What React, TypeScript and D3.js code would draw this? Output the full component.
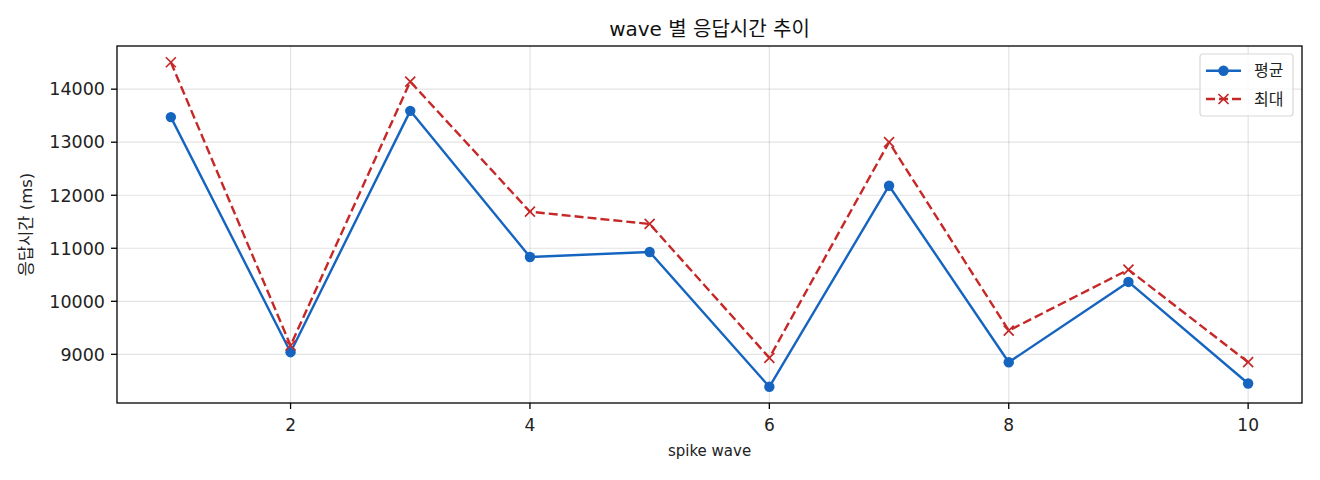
import React from "react";
import * as d3 from "d3";

const waves = [1, 2, 3, 4, 5, 6, 7, 8, 9, 10];
const avgMs = [13473, 9040, 13591, 10836, 10930, 8388, 12179, 8851, 10365, 8450];
const maxMs = [14508, 9166, 14143, 11689, 11458, 8934, 13000, 9448, 10597, 8851];
const xTicks = [2, 4, 6, 8, 10];
const yTicks = [9000, 10000, 11000, 12000, 13000, 14000];
const seriesNames = ["평균", "최대"];

const W = 1320, H = 480;
const L = 117, R = 1302, T = 46, B = 403;
const BLUE = "#1565c0";
const RED = "#c62828";
const FONT = "'DejaVu Sans', 'Noto Sans CJK KR', sans-serif";

export default function App() {
  const all = [...avgMs, ...maxMs];
  const ymin = d3.min(all)!, ymax = d3.max(all)!;
  const ypad = (ymax - ymin) * 0.05;
  const x = d3.scaleLinear().domain([0.55, 10.45]).range([L, R]);
  const y = d3.scaleLinear().domain([ymin - ypad, ymax + ypad]).range([B, T]);
  const line = d3.line<number>().x((_, i) => x(waves[i])).y((d) => y(d));

  return (
    <svg width={W} height={H} style={{ position: "absolute", left: 0, top: 0, background: "#fff" }}>
      <rect width={W} height={H} fill="#fff" />
      {xTicks.map((t) => (
        <line key={"gx" + t} x1={x(t)} x2={x(t)} y1={T} y2={B} stroke="#b0b0b0" strokeOpacity={0.35} strokeWidth={1.2} />
      ))}
      {yTicks.map((t) => (
        <line key={"gy" + t} x1={L} x2={R} y1={y(t)} y2={y(t)} stroke="#b0b0b0" strokeOpacity={0.35} strokeWidth={1.2} />
      ))}
      <path d={line(avgMs)!} fill="none" stroke={BLUE} strokeWidth={2.4} strokeLinejoin="round" />
      {avgMs.map((v, i) => (
        <circle key={"a" + i} cx={x(waves[i])} cy={y(v)} r={5.2} fill={BLUE} />
      ))}
      <path d={line(maxMs)!} fill="none" stroke={RED} strokeWidth={2.4} strokeDasharray="9,4" strokeLinejoin="round" />
      {maxMs.map((v, i) => {
        const cx = x(waves[i]), cy = y(v), s = 5;
        return (
          <path key={"m" + i} d={`M${cx - s},${cy - s}L${cx + s},${cy + s}M${cx - s},${cy + s}L${cx + s},${cy - s}`} stroke={RED} strokeWidth={1.7} />
        );
      })}
      <rect x={L} y={T} width={R - L} height={B - T} fill="none" stroke="#000" strokeWidth={1.3} />
      {xTicks.map((t) => (
        <g key={"xt" + t}>
          <line x1={x(t)} x2={x(t)} y1={B} y2={B + 6} stroke="#000" strokeWidth={1.3} />
          <text x={x(t)} y={431} textAnchor="middle" fontFamily={FONT} fontSize={17} fill="#222">{t}</text>
        </g>
      ))}
      {yTicks.map((t) => (
        <g key={"yt" + t}>
          <line x1={L - 6} x2={L} y1={y(t)} y2={y(t)} stroke="#000" strokeWidth={1.3} />
          <text x={L - 12} y={y(t)} dy="0.36em" textAnchor="end" fontFamily={FONT} fontSize={17.5} fill="#222">{t}</text>
        </g>
      ))}
      <text x={(L + R) / 2} y={36} textAnchor="middle" fontFamily={FONT} fontSize={20} fill="#111">wave 별 응답시간 추이</text>
      <text x={(L + R) / 2} y={456} textAnchor="middle" fontFamily={FONT} fontSize={15} fill="#222">spike wave</text>
      <text transform={`translate(32,${(T + B) / 2}) rotate(-90)`} textAnchor="middle" fontFamily={FONT} fontSize={16.5} fill="#222">응답시간 (ms)</text>
      <g>
        <rect x={1200} y={54} width={93} height={62} rx={3} fill="#fff" fillOpacity={0.8} stroke="#d8d8d8" strokeWidth={1.2} />
        <line x1={1206} x2={1241} y1={70.7} y2={70.7} stroke={BLUE} strokeWidth={2.4} />
        <circle cx={1223.5} cy={70.7} r={5.2} fill={BLUE} />
        <text x={1254} y={70.7} dy="0.36em" fontFamily={FONT} fontSize={16} fill="#222">{seriesNames[0]}</text>
        <line x1={1206} x2={1241} y1={99} y2={99} stroke={RED} strokeWidth={2.4} strokeDasharray="9,4" />
        <path d={`M${1223.5 - 5},${94}L${1223.5 + 5},${104}M${1223.5 - 5},${104}L${1223.5 + 5},${94}`} stroke={RED} strokeWidth={1.7} />
        <text x={1254} y={99} dy="0.36em" fontFamily={FONT} fontSize={16} fill="#222">{seriesNames[1]}</text>
      </g>
    </svg>
  );
}
